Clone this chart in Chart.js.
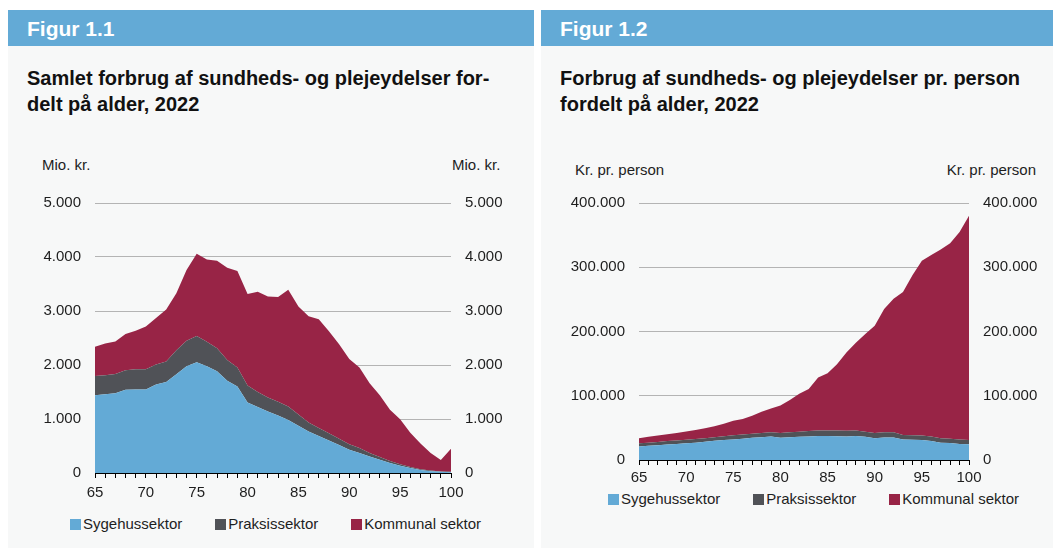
<!DOCTYPE html>
<html lang="da">
<head>
<meta charset="utf-8">
<title>Figur 1.1 og 1.2</title>
<script src="https://cdn.jsdelivr.net/npm/chart.js@4.4.1/dist/chart.umd.min.js"></script>
<style>
  body { margin: 0; background: #fff; font-family: "Liberation Sans", Arial, sans-serif; color: #1e1e1e; }
  .page { position: relative; width: 1053px; height: 548px; overflow: hidden; }
  .panel { position: absolute; top: 10px; height: 538px; background: #f7f8f8; }
  .head { height: 36px; line-height: 37px; background: #63aad6; color: #fff; font-weight: bold; font-size: 21px; padding-left: 19px; }
  .title { position: absolute; top: 55px; left: 19px; font-weight: bold; font-size: 20px; line-height: 26px; color: #111; white-space: nowrap; }
  .unit { position: absolute; font-size: 15px; line-height: 18px; color: #1e1e1e; white-space: nowrap; }
  canvas { position: absolute; }
  .legend { position: absolute; display: flex; gap: 33px; font-size: 15px; line-height: 18px; color: #1e1e1e; }
  .legend span.item { display: flex; align-items: center; }
  .legend i { display: inline-block; width: 11px; height: 11px; margin-right: 2px; }
</style>
</head>
<body>
<div class="page">
  <div class="panel" style="left:8px;width:526px">
    <div class="head">Figur 1.1</div>
    <div class="title">Samlet forbrug af sundheds- og plejeydelser for-<br>delt på alder, 2022</div>
  </div>
  <div class="panel" style="left:541px;width:512px">
    <div class="head">Figur 1.2</div>
    <div class="title">Forbrug af sundheds- og plejeydelser pr. person<br>fordelt på alder, 2022</div>
  </div>

  <div class="unit" style="left:42px;top:156px">Mio. kr.</div>
  <div class="unit" style="left:452px;top:156px">Mio. kr.</div>
  <div class="unit" style="left:575px;top:161px">Kr. pr. person</div>
  <div class="unit" style="right:17px;top:161px">Kr. pr. person</div>

  <canvas id="fig1" width="526" height="330" style="left:8px;top:180px"></canvas>
  <canvas id="fig2" width="512" height="310" style="left:541px;top:180px"></canvas>

  <div class="legend" id="leg1" style="left:70px;top:515px"></div>
  <div class="legend" id="leg2" style="left:608px;top:490px"></div>
</div>

<script>
/* Alder (x-akse) */
const ages = [65,66,67,68,69,70,71,72,73,74,75,76,77,78,79,80,81,82,83,84,85,86,87,88,89,90,91,92,93,94,95,96,97,98,99,100];

const seriesNames = ['Sygehussektor', 'Praksissektor', 'Kommunal sektor'];
const seriesColors = ['#63aad6', '#505257', '#982446'];

/* Figur 1.1 - samlet forbrug, mio. kr. */
const fig1Syg = [1441,1459,1477,1543,1548,1548,1637,1685,1827,1975,2053,1975,1886,1708,1601,1306,1222,1138,1065,982,875,769,685,602,520,431,371,306,246,187,134,93,57,32,21,14];
const fig1Prak = [355,350,355,360,375,375,370,380,445,475,485,455,425,385,355,315,280,260,255,250,210,165,150,135,115,100,90,65,50,35,30,17,11,12,6,7];
const fig1Komm = [540,590,605,670,710,790,865,965,1055,1310,1520,1525,1620,1710,1785,1695,1855,1870,1940,2160,2000,1970,2010,1890,1750,1580,1495,1290,1145,950,830,635,480,325,215,430];
const fig1Ticks = [0, 1000, 2000, 3000, 4000, 5000];

/* Figur 1.2 - kr. pr. person */
const fig2Syg = [21000,22000,23000,24000,25000,26000,27000,28500,30000,31000,32000,33000,34500,35500,36500,34500,35500,36000,36500,37500,37500,37000,36500,37500,36000,34000,35000,35000,32000,31500,31000,29500,27000,26500,25000,24500];
const fig2Prak = [5000,5000,5000,5500,5500,5500,5500,5500,5500,6000,6500,6500,6500,6500,6500,7500,7500,8000,8500,8500,8500,9000,9000,8500,8000,8000,8000,8000,7000,7000,7000,7000,7000,6500,7000,6500];
const fig2Komm = [8000,9000,10000,10500,11500,13000,14000,15500,17000,19500,22500,24500,28000,33000,37000,43000,50500,59000,65500,82500,89000,103000,122000,136500,152000,167000,192000,208000,222500,249000,272000,282500,293500,304500,323000,349000];
const fig2Ticks = [0, 100000, 200000, 300000, 400000];

Chart.defaults.font.family = '"Liberation Sans", Arial, sans-serif';
Chart.defaults.font.size = 15;
Chart.defaults.color = '#1e1e1e';

/* dansk tusindtalsseparator */
function fmt(v) {
  return String(v).replace(/\B(?=(\d{3})+(?!\d))/g, '.');
}

function makeChart(id, values, tickVals, box) {
  const yMax = tickVals[tickVals.length - 1];
  const step = tickVals[1] - tickVals[0];
  const datasets = values.map((vals, i) => ({
    label: seriesNames[i],
    data: vals,
    backgroundColor: seriesColors[i],
    borderWidth: 0,
    pointRadius: 0,
    tension: 0,
    fill: i === 0 ? 'origin' : '-1'
  }));

  const yTicks = { stepSize: step, padding: 14, callback: v => fmt(v) };

  return new Chart(document.getElementById(id), {
    type: 'line',
    data: { labels: ages, datasets: datasets },
    options: {
      responsive: false,
      animation: false,
      layout: { padding: { top: box.top, left: 0, right: 0, bottom: 0 } },
      plugins: { legend: { display: false }, tooltip: { enabled: false } },
      scales: {
        x: {
          offset: false,
          grid: { drawOnChartArea: false, drawTicks: true, tickLength: 5, color: '#000' },
          border: { display: true, color: '#000', width: 1 },
          ticks: {
            autoSkip: false, maxRotation: 0, padding: box.xPad,
            callback: (v, i) => (ages[i] % 5 === 0 ? ages[i] : '')
          },
          afterFit: s => { s.height = box.xH; }
        },
        y: {
          stacked: true, min: 0, max: yMax, position: 'left',
          grid: {
            drawTicks: false,
            color: c => (c.tick && c.tick.value === 0 ? 'rgba(0,0,0,0)' : '#b4b4b4')
          },
          border: { display: false },
          ticks: yTicks,
          afterFit: s => { s.width = box.left; }
        },
        y2: {
          min: 0, max: yMax, position: 'right',
          grid: { display: false, drawTicks: false },
          border: { display: false },
          ticks: yTicks,
          afterFit: s => { s.width = box.right; }
        }
      }
    }
  });
}

function makeLegend(id) {
  const el = document.getElementById(id);
  seriesNames.forEach((name, i) => {
    const item = document.createElement('span');
    item.className = 'item';
    item.innerHTML = '<i style="background:' + seriesColors[i] + '"></i>' + name;
    el.appendChild(item);
  });
}

makeChart('fig1', [fig1Syg, fig1Prak, fig1Komm], fig1Ticks, { top: 12, left: 87, right: 83, xH: 37, xPad: 6 });
makeChart('fig2', [fig2Syg, fig2Prak, fig2Komm], fig2Ticks, { top: 14, left: 98, right: 84, xH: 30, xPad: 4 });
makeLegend('leg1');
makeLegend('leg2');
</script>
</body>
</html>
